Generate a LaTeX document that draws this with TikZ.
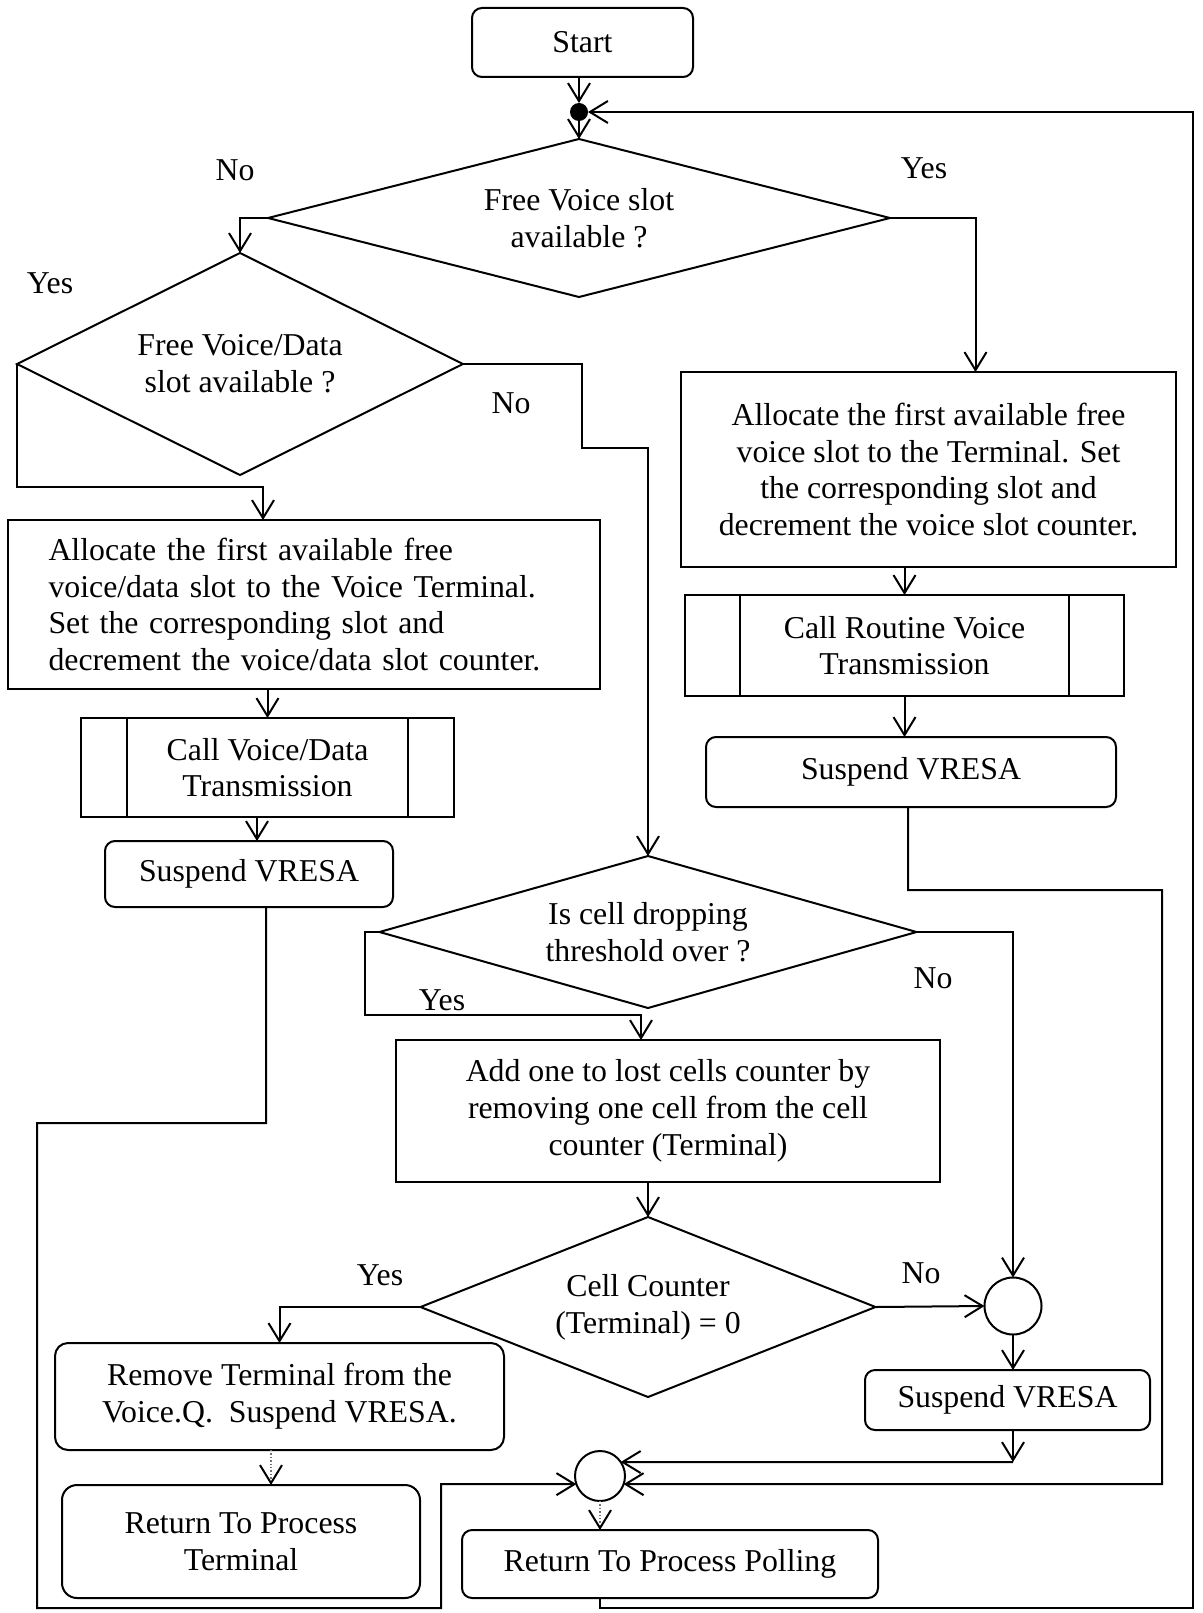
\documentclass[tikz,border=0pt]{standalone}
\usepackage{fontspec}
\setmainfont{Liberation Serif}
\usetikzlibrary{arrows.meta,shapes.geometric}
\begin{document}
\begin{tikzpicture}[x=1pt,y=-1pt,
  font=\fontsize{31.8pt}{36.7pt}\selectfont,
  line width=2pt,
  >={Straight Barb[length=18pt,width=22pt]},
  proc/.style={draw, rectangle, inner sep=0pt, outer sep=0pt, align=center},
  term/.style={proc, rounded corners=10pt},
  dec/.style={draw, diamond, inner sep=0pt, outer sep=0pt, align=center},
  subr/.style={proc, path picture={
      \draw ([xshift=#1]path picture bounding box.north west) -- ([xshift=#1]path picture bounding box.south west);
      \draw ([xshift=-#1]path picture bounding box.north east) -- ([xshift=-#1]path picture bounding box.south east);}},
  junc/.style={draw, circle, inner sep=0pt, outer sep=0pt},
  lbl/.style={inner sep=0pt},
  hint/.style={draw=black!55, dotted, line width=1.4pt,
      -{Straight Barb[length=18pt,width=22pt,color=black,line width=2pt]}}
]
\useasboundingbox (0,0) rectangle (1202,1613);

% ---------- nodes ----------
\node[term, minimum width=221pt, minimum height=69pt] (start) at (582.5,42.5) {Start};
\node[circle, fill, inner sep=0pt, outer sep=0pt, minimum size=18pt] (jn) at (579,112) {};
\node[dec, minimum width=622pt, minimum height=158pt, aspect=3.94] (d1) at (579,218) {Free Voice slot\\available ?};
\node[dec, minimum width=446pt, minimum height=222pt, aspect=2.0] (d2) at (240,364) {Free Voice/Data\\slot available ?};

\node[proc, minimum width=495pt, minimum height=195pt] (ra) at (928.5,469.5)
  {Allocate the first available free\\voice slot to the Terminal. Set\\the corresponding slot and\\decrement the voice slot counter.};
\node[proc, minimum width=592pt, minimum height=169pt, text width=511pt, align=left] (la) at (304,604.5)
  {\makebox[511pt][s]{Allocate the first available free}\\
   \makebox[511pt][s]{voice/data slot to the Voice Terminal.}\\
   \makebox[511pt][s]{Set the corresponding slot and}\\
   decrement the voice/data slot counter.};

\node[subr=55pt, minimum width=439pt, minimum height=101pt] (cr) at (904.5,645.5) {Call Routine Voice\\Transmission};
\node[subr=46pt, minimum width=373pt, minimum height=99pt] (cvd) at (267.5,767.5) {Call Voice/Data\\Transmission};
\node[term, minimum width=410pt, minimum height=70pt] (sr) at (911,772) {Suspend VRESA};
\node[term, minimum width=288pt, minimum height=66pt] (sl) at (249,874) {\raisebox{5pt}{Suspend VRESA}};

\node[dec, minimum width=537pt, minimum height=152pt, aspect=3.53] (d3) at (648,932) {Is cell dropping\\threshold over ?};
\node[proc, minimum width=544pt, minimum height=142pt] (ab) at (668,1111)
  {Add one to lost cells counter by\\removing one cell from the cell\\counter (Terminal)};
\node[dec, minimum width=455pt, minimum height=180pt, aspect=2.52] (d4) at (648,1307) {Cell Counter\\(Terminal) = 0};

\node[junc, minimum size=57pt] (c2n) at (1013,1306) {};
\node[term, minimum width=285pt, minimum height=60pt] (sb) at (1007.5,1400) {Suspend VRESA};
\node[term, rounded corners=13pt, minimum width=449pt, minimum height=107pt] (rm) at (279.5,1396.5)
  {Remove Terminal from the\\Voice.Q.\ \ Suspend VRESA.};
\node[term, rounded corners=15pt, minimum width=358pt, minimum height=113pt] (rt) at (241,1541.5)
  {Return To Process\\Terminal};
\node[junc, minimum size=50pt] (c1n) at (600,1476) {};
\node[term, minimum width=416pt, minimum height=68pt] (pp) at (670,1564) {Return To Process Polling};

% ---------- branch labels ----------
\node[lbl] (l1) at (235,170) {No};
\node[lbl] (l2) at (924,168) {Yes};
\node[lbl] (l3) at (50,283) {Yes};
\node[lbl] (l4) at (511,403) {No};
\node[lbl] (l5) at (442,1000) {Yes};
\node[lbl] (l6) at (933,978) {No};
\node[lbl] (l7) at (380,1275) {Yes};
\node[lbl] (l8) at (921,1273) {No};

% ---------- connectors ----------
\draw[->] (start.south -| jn.north) -- (jn.north);
\draw[->] (jn.south) -- (d1.north);
\draw[->] (d1.west) -| (d2.north);
\draw[->] (d1.east) -| ([xshift=47pt]ra.north);
\draw[->] (d2.west) -- (d2.west |- 0,487) -| ([xshift=-41pt]la.north);
\coordinate (k1) at (582,448);
\draw[->] (d2.east) -| (k1) -| (d3.north);

\draw[->] (la.south -| cvd.north) -- (cvd.north);
\draw[->] (cvd.south -| 257,0) -- (sl.north -| 257,0);
\draw[->] (ra.south -| cr.north) -- (cr.north);
\draw[->] (cr.south) -- (cr.south |- sr.north);

\draw[->] (sl.south -| 266,0) -- (266,1123) -- (37,1123) -- (37,1608) -- (441,1608) -- (441,1484) -- (c1n.199);
\draw[->] (sr.south -| 908,0) -- (908,890) -- (1162,890) -- (1162,1484) -- (c1n.341);

\draw[->] (d3.west) -| (365,1015) -| ([xshift=-27pt]ab.north);
\draw[->] (d3.east) -| (c2n.north);
\draw[->] (ab.south -| d4.north) -- (d4.north);
\draw[->] (d4.west) -| (rm.north);
\draw[->] (d4.east) -- (c2n.west);
\draw[->] (c2n.south) -- (c2n.south |- sb.north);
\coordinate (k2) at (1013,1462);
\draw[->] (sb.south -| k2) -- (k2);
\draw[->] (k2) -- (c1n.34);

\draw[hint] (rm.south -| 271,0) -- (rt.north -| 271,0);
\draw[hint] (c1n.south) -- (c1n.south |- pp.north);
\draw[->] (pp.south -| c1n.south) -- (c1n.south |- 0,1608) -- (1193,1608) -- (1193,112) -- (jn.east);
\end{tikzpicture}
\end{document}
